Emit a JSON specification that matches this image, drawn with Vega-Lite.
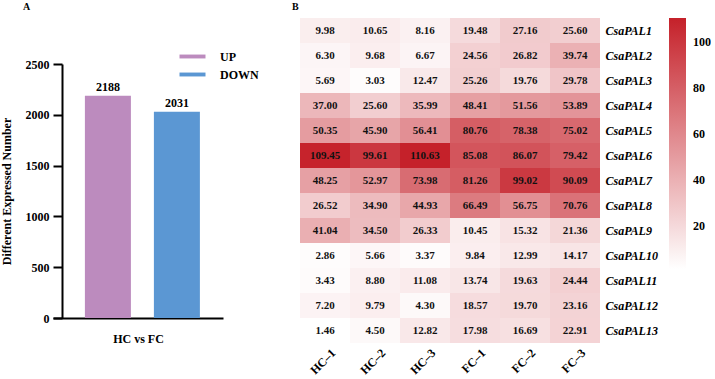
{
  "$schema": "https://vega.github.io/schema/vega-lite/v6.json",
  "padding": {"left": 0, "top": 2, "right": 0, "bottom": 0},
  "background": "white",
  "config": {
    "font": "Liberation Serif",
    "view": {"stroke": null},
    "concat": {"spacing": 33},
    "axis": {"labelColor": "#000", "titleColor": "#000", "domainColor": "#000", "tickColor": "#000", "grid": false},
    "legend": {"labelColor": "#000"}
  },
  "hconcat": [
    {
      "width": 170,
      "height": 300,
      "title": {"text": "A", "anchor": "start", "frame": "group", "dx": -30, "offset": 6, "fontSize": 10, "fontWeight": "bold", "color": "#000"},
      "data": {
        "values": [
          {"comparison": "HC vs FC", "regulation": "UP", "count": 2188},
          {"comparison": "HC vs FC", "regulation": "DOWN", "count": 2031}
        ]
      },
      "encoding": {
        "x": {
          "field": "regulation",
          "type": "nominal",
          "sort": ["UP", "DOWN"],
          "scale": {"paddingInner": 0.3333, "paddingOuter": 0.3986, "align": 0.58},
          "axis": {"labels": false, "ticks": false, "domainWidth": 2, "title": "HC vs FC", "titleFontSize": 12, "titleFontWeight": "bold", "titlePadding": 15}
        },
        "y": {
          "field": "count",
          "type": "quantitative",
          "scale": {"domain": [0, 2500], "nice": false, "range": [300, 46]},
          "axis": {
            "values": [0, 500, 1000, 1500, 2000, 2500],
            "format": "d",
            "offset": -9,
            "tickSize": 9,
            "tickWidth": 2,
            "domainWidth": 2,
            "labelFontSize": 12,
            "labelFontWeight": "bold",
            "labelPadding": 4,
            "title": "Different Expressed Number",
            "titleFontSize": 12,
            "titleFontWeight": "bold",
            "titlePadding": 12
          }
        }
      },
      "layer": [
        {
          "mark": {"type": "bar"},
          "encoding": {
            "color": {
              "field": "regulation",
              "type": "nominal",
              "scale": {"domain": ["UP", "DOWN"], "range": ["#BC8BBE", "#5B97D3"]},
              "legend": {
                "title": null,
                "orient": "none",
                "legendX": 133,
                "legendY": 32,
                "symbolType": "M-2,-0.3H2V0.3H-2Z",
                "symbolSize": 169,
                "symbolStrokeWidth": 0,
                "labelOffset": 21,
                "labelFontSize": 12,
                "labelFontWeight": "bold",
                "rowPadding": 5
              }
            }
          }
        },
        {
          "mark": {"type": "text", "baseline": "alphabetic", "dy": -5, "fontSize": 12, "fontWeight": "bold", "color": "#000"},
          "encoding": {"text": {"field": "count", "type": "quantitative"}}
        }
      ]
    },
    {
      "width": 300,
      "height": 325,
      "title": {"text": "B", "anchor": "start", "frame": "group", "dx": -8, "offset": 6, "fontSize": 10, "fontWeight": "bold", "color": "#000"},
      "data": {
        "values": [
          {"gene": "CsaPAL1", "sample": "HC–1", "expr": 9.98},
          {"gene": "CsaPAL1", "sample": "HC–2", "expr": 10.65},
          {"gene": "CsaPAL1", "sample": "HC–3", "expr": 8.16},
          {"gene": "CsaPAL1", "sample": "FC–1", "expr": 19.48},
          {"gene": "CsaPAL1", "sample": "FC–2", "expr": 27.16},
          {"gene": "CsaPAL1", "sample": "FC–3", "expr": 25.60},
          {"gene": "CsaPAL2", "sample": "HC–1", "expr": 6.30},
          {"gene": "CsaPAL2", "sample": "HC–2", "expr": 9.68},
          {"gene": "CsaPAL2", "sample": "HC–3", "expr": 6.67},
          {"gene": "CsaPAL2", "sample": "FC–1", "expr": 24.56},
          {"gene": "CsaPAL2", "sample": "FC–2", "expr": 26.82},
          {"gene": "CsaPAL2", "sample": "FC–3", "expr": 39.74},
          {"gene": "CsaPAL3", "sample": "HC–1", "expr": 5.69},
          {"gene": "CsaPAL3", "sample": "HC–2", "expr": 3.03},
          {"gene": "CsaPAL3", "sample": "HC–3", "expr": 12.47},
          {"gene": "CsaPAL3", "sample": "FC–1", "expr": 25.26},
          {"gene": "CsaPAL3", "sample": "FC–2", "expr": 19.76},
          {"gene": "CsaPAL3", "sample": "FC–3", "expr": 29.78},
          {"gene": "CsaPAL4", "sample": "HC–1", "expr": 37.00},
          {"gene": "CsaPAL4", "sample": "HC–2", "expr": 25.60},
          {"gene": "CsaPAL4", "sample": "HC–3", "expr": 35.99},
          {"gene": "CsaPAL4", "sample": "FC–1", "expr": 48.41},
          {"gene": "CsaPAL4", "sample": "FC–2", "expr": 51.56},
          {"gene": "CsaPAL4", "sample": "FC–3", "expr": 53.89},
          {"gene": "CsaPAL5", "sample": "HC–1", "expr": 50.35},
          {"gene": "CsaPAL5", "sample": "HC–2", "expr": 45.90},
          {"gene": "CsaPAL5", "sample": "HC–3", "expr": 56.41},
          {"gene": "CsaPAL5", "sample": "FC–1", "expr": 80.76},
          {"gene": "CsaPAL5", "sample": "FC–2", "expr": 78.38},
          {"gene": "CsaPAL5", "sample": "FC–3", "expr": 75.02},
          {"gene": "CsaPAL6", "sample": "HC–1", "expr": 109.45},
          {"gene": "CsaPAL6", "sample": "HC–2", "expr": 99.61},
          {"gene": "CsaPAL6", "sample": "HC–3", "expr": 110.63},
          {"gene": "CsaPAL6", "sample": "FC–1", "expr": 85.08},
          {"gene": "CsaPAL6", "sample": "FC–2", "expr": 86.07},
          {"gene": "CsaPAL6", "sample": "FC–3", "expr": 79.42},
          {"gene": "CsaPAL7", "sample": "HC–1", "expr": 48.25},
          {"gene": "CsaPAL7", "sample": "HC–2", "expr": 52.97},
          {"gene": "CsaPAL7", "sample": "HC–3", "expr": 73.98},
          {"gene": "CsaPAL7", "sample": "FC–1", "expr": 81.26},
          {"gene": "CsaPAL7", "sample": "FC–2", "expr": 99.02},
          {"gene": "CsaPAL7", "sample": "FC–3", "expr": 90.09},
          {"gene": "CsaPAL8", "sample": "HC–1", "expr": 26.52},
          {"gene": "CsaPAL8", "sample": "HC–2", "expr": 34.90},
          {"gene": "CsaPAL8", "sample": "HC–3", "expr": 44.93},
          {"gene": "CsaPAL8", "sample": "FC–1", "expr": 66.49},
          {"gene": "CsaPAL8", "sample": "FC–2", "expr": 56.75},
          {"gene": "CsaPAL8", "sample": "FC–3", "expr": 70.76},
          {"gene": "CsaPAL9", "sample": "HC–1", "expr": 41.04},
          {"gene": "CsaPAL9", "sample": "HC–2", "expr": 34.50},
          {"gene": "CsaPAL9", "sample": "HC–3", "expr": 26.33},
          {"gene": "CsaPAL9", "sample": "FC–1", "expr": 10.45},
          {"gene": "CsaPAL9", "sample": "FC–2", "expr": 15.32},
          {"gene": "CsaPAL9", "sample": "FC–3", "expr": 21.36},
          {"gene": "CsaPAL10", "sample": "HC–1", "expr": 2.86},
          {"gene": "CsaPAL10", "sample": "HC–2", "expr": 5.66},
          {"gene": "CsaPAL10", "sample": "HC–3", "expr": 3.37},
          {"gene": "CsaPAL10", "sample": "FC–1", "expr": 9.84},
          {"gene": "CsaPAL10", "sample": "FC–2", "expr": 12.99},
          {"gene": "CsaPAL10", "sample": "FC–3", "expr": 14.17},
          {"gene": "CsaPAL11", "sample": "HC–1", "expr": 3.43},
          {"gene": "CsaPAL11", "sample": "HC–2", "expr": 8.80},
          {"gene": "CsaPAL11", "sample": "HC–3", "expr": 11.08},
          {"gene": "CsaPAL11", "sample": "FC–1", "expr": 13.74},
          {"gene": "CsaPAL11", "sample": "FC–2", "expr": 19.63},
          {"gene": "CsaPAL11", "sample": "FC–3", "expr": 24.44},
          {"gene": "CsaPAL12", "sample": "HC–1", "expr": 7.20},
          {"gene": "CsaPAL12", "sample": "HC–2", "expr": 9.79},
          {"gene": "CsaPAL12", "sample": "HC–3", "expr": 4.30},
          {"gene": "CsaPAL12", "sample": "FC–1", "expr": 18.57},
          {"gene": "CsaPAL12", "sample": "FC–2", "expr": 19.70},
          {"gene": "CsaPAL12", "sample": "FC–3", "expr": 23.16},
          {"gene": "CsaPAL13", "sample": "HC–1", "expr": 1.46},
          {"gene": "CsaPAL13", "sample": "HC–2", "expr": 4.50},
          {"gene": "CsaPAL13", "sample": "HC–3", "expr": 12.82},
          {"gene": "CsaPAL13", "sample": "FC–1", "expr": 17.98},
          {"gene": "CsaPAL13", "sample": "FC–2", "expr": 16.69},
          {"gene": "CsaPAL13", "sample": "FC–3", "expr": 22.91}
        ]
      },
      "encoding": {
        "x": {
          "field": "sample",
          "type": "nominal",
          "sort": ["HC–1", "HC–2", "HC–3", "FC–1", "FC–2", "FC–3"],
          "axis": {"title": null, "ticks": false, "domain": false, "labelAngle": -45, "labelFontSize": 12, "labelFontWeight": "bold", "labelPadding": 4, "labelOffset": 5}
        },
        "y": {
          "field": "gene",
          "type": "nominal",
          "sort": ["CsaPAL1", "CsaPAL2", "CsaPAL3", "CsaPAL4", "CsaPAL5", "CsaPAL6", "CsaPAL7", "CsaPAL8", "CsaPAL9", "CsaPAL10", "CsaPAL11", "CsaPAL12", "CsaPAL13"],
          "axis": {"orient": "right", "title": null, "ticks": false, "domain": false, "labelFontSize": 12, "labelFontWeight": "bold", "labelFontStyle": "italic", "labelPadding": 5}
        }
      },
      "layer": [
        {
          "mark": {"type": "rect"},
          "encoding": {
            "color": {
              "field": "expr",
              "type": "quantitative",
              "scale": {"domain": [1.46, 110.63], "range": ["#ffffff", "#c5212a"], "interpolate": "rgb"},
              "legend": {
                "title": null,
                "orient": "right",
                "offset": 11,
                "direction": "vertical",
                "gradientLength": 251,
                "gradientThickness": 17,
                "gradientStrokeWidth": 0,
                "values": [20, 40, 60, 80, 100],
                "labelFontSize": 12,
                "labelFontWeight": "bold",
                "labelOffset": 7
              }
            }
          }
        },
        {
          "mark": {"type": "text", "fontSize": 11, "fontWeight": "bold", "color": "#111"},
          "encoding": {"text": {"field": "expr", "type": "quantitative", "format": ".2f"}}
        }
      ]
    }
  ]
}
